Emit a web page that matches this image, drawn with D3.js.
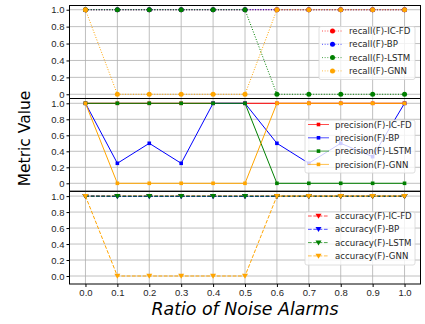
<!DOCTYPE html>
<html>
<head>
<meta charset="utf-8">
<script src="https://cdn.jsdelivr.net/npm/d3@7"></script>
<style>
  body { margin: 0; background: #fff; }
  svg { display: block; font-family: "DejaVu Sans", sans-serif; }
  .axis text { fill: #262626; font-size: 9.5px; }
  .grid line { stroke: #b0b0b0; stroke-width: 0.8; }
</style>
</head>
<body>
<div class="canvas"></div>
<script>
const ratios = [0.0, 0.1, 0.2, 0.3, 0.4, 0.5, 0.6, 0.7, 0.8, 0.9, 1.0];
const methods = ["IC-FD", "BP", "LSTM", "GNN"];

const recallICFD = [1, 1, 1, 1, 1, 1, 1, 1, 1, 1, 1];
const recallBP = [1, 1, 1, 1, 1, 1, 1, 1, 1, 1, 1];
const recallLSTM = [1, 1, 1, 1, 1, 1, 0, 0, 0, 0, 0];
const recallGNN = [1, 0, 0, 0, 0, 0, 1, 1, 1, 1, 1];

const precisionICFD = [1, 1, 1, 1, 1, 1, 1, 1, 1, 1, 1];
const precisionBP = [1, 0.25, 0.5, 0.25, 1, 1, 0.5, 0.25, 0.5, 0.333, 1];
const precisionLSTM = [1, 1, 1, 1, 1, 1, 0, 0, 0, 0, 0];
const precisionGNN = [1, 0, 0, 0, 0, 0, 1, 1, 1, 1, 1];

const accuracyICFD = [1, 1, 1, 1, 1, 1, 1, 1, 1, 1, 1];
const accuracyBP = [1, 0.995, 0.995, 0.995, 0.995, 0.995, 0.995, 0.995, 0.995, 0.995, 0.995];
const accuracyLSTM = [1, 1, 1, 1, 1, 1, 1, 1, 1, 1, 1];
const accuracyGNN = [1, 0, 0, 0, 0, 0, 1, 1, 1, 1, 1];

const yTicks = [0, 0.2, 0.4, 0.6, 0.8, 1.0];
const colors = ["#ff0000", "#0000ff", "#008000", "#ffa500"];

const panels = [
  { metric: "recall", series: [recallICFD, recallBP, recallLSTM, recallGNN],
    dash: "1,1.65", marker: "circle", domain: [-0.05, 1.05], zero: "0",
    top: 5.5, bottom: 98.5, legend: { x: 319, y: 26.5, w: 96, rowY: 31 , lineX: 322 } },
  { metric: "precision", series: [precisionICFD, precisionBP, precisionLSTM, precisionGNN],
    dash: null, marker: "square", domain: [-0.1, 1.06], zero: "0",
    top: 98.5, bottom: 191.3, legend: { x: 305, y: 120, w: 110, rowY: 124.5, lineX: 308 } },
  { metric: "accuracy", series: [accuracyICFD, accuracyBP, accuracyLSTM, accuracyGNN],
    dash: "3.7,1.6", marker: "triangle", domain: [-0.1, 1.06], zero: "0.0",
    top: 191.3, bottom: 284, legend: { x: 305, y: 212, w: 110, rowY: 216, lineX: 308 } }
];

const W = 425, H = 324;
const left = 69.5, right = 420.5;

const svg = d3.select(".canvas").append("svg")
  .attr("width", W).attr("height", H);

const x = d3.scaleLinear().domain([-0.05, 1.05]).range([left, right]);

function drawMarker(g, type, cx, cy, color) {
  if (type === "circle") {
    g.append("circle").attr("cx", cx).attr("cy", cy).attr("r", 2.5).attr("fill", color);
  } else if (type === "square") {
    g.append("rect").attr("x", cx - 1.8).attr("y", cy - 1.8)
      .attr("width", 3.6).attr("height", 3.6).attr("fill", color);
  } else {
    g.append("path").attr("d", `M${cx - 3},${cy - 2.2}L${cx + 3},${cy - 2.2}L${cx},${cy + 2.8}Z`)
      .attr("fill", color);
  }
}

panels.forEach((p, pi) => {
  const y = d3.scaleLinear().domain(p.domain).range([p.bottom, p.top]);
  const g = svg.append("g");

  // grid
  const grid = g.append("g").attr("class", "grid");
  grid.selectAll(".gx").data(ratios).enter().append("line")
    .attr("x1", (d) => x(d)).attr("x2", (d) => x(d))
    .attr("y1", p.top).attr("y2", p.bottom);
  grid.selectAll(".gy").data(yTicks).enter().append("line")
    .attr("x1", left).attr("x2", right)
    .attr("y1", (d) => y(d)).attr("y2", (d) => y(d));

  // y axis
  const yAxis = d3.axisLeft(y).tickValues(yTicks).tickSize(3)
    .tickPadding(2)
    .tickFormat((d) => (d === 0 ? p.zero : d3.format(".1f")(d)));
  g.append("g").attr("class", "axis")
    .attr("transform", `translate(${left},0)`)
    .call(yAxis)
    .call((a) => a.select(".domain").remove());

  // lines
  const line = d3.line().x((d, i) => x(ratios[i])).y((d) => y(d));
  p.series.forEach((vals, si) => {
    const sg = g.append("g");
    sg.append("path").datum(vals)
      .attr("d", line)
      .attr("fill", "none")
      .attr("stroke", colors[si])
      .attr("stroke-width", 1)
      .attr("stroke-dasharray", p.dash);
    vals.forEach((v, i) => drawMarker(sg, p.marker, x(ratios[i]), y(v), colors[si]));
  });

  // frame
  g.append("rect")
    .attr("x", left).attr("y", p.top)
    .attr("width", right - left).attr("height", p.bottom - p.top)
    .attr("fill", "none").attr("stroke", "#000").attr("stroke-width", 1);

  // x axis on bottom panel
  if (pi === panels.length - 1) {
    const xAxis = d3.axisBottom(x).tickValues(ratios).tickSize(3).tickPadding(2.5)
      .tickFormat(d3.format(".1f"));
    g.append("g").attr("class", "axis")
      .attr("transform", `translate(0,${p.bottom})`)
      .call(xAxis)
      .call((a) => a.select(".domain").remove());
  }

  // legend
  const L = p.legend;
  const lg = svg.append("g");
  const rowH = 13.3;
  lg.append("rect")
    .attr("x", L.x).attr("y", L.y).attr("width", L.w).attr("height", 53)
    .attr("rx", 2).attr("fill", "rgba(255,255,255,0.8)")
    .attr("stroke", "#d6d6d6").attr("stroke-width", 0.8);
  methods.forEach((m, i) => {
    const cy = L.rowY + i * rowH;
    lg.append("line")
      .attr("x1", L.lineX).attr("x2", L.lineX + 21)
      .attr("y1", cy).attr("y2", cy)
      .attr("stroke", colors[i]).attr("stroke-width", 1)
      .attr("stroke-opacity", 0.7)
      .attr("stroke-dasharray", p.dash);
    drawMarker(lg, p.marker, L.lineX + 10.5, cy, colors[i]);
    lg.append("text")
      .attr("x", L.lineX + 27).attr("y", cy + 3.1)
      .attr("font-size", 8.6).attr("fill", "#262626")
      .text(`${p.metric}(F)-${m}`);
  });
});

svg.append("text")
  .attr("transform", "translate(30,138.5) rotate(-90)")
  .attr("text-anchor", "middle")
  .attr("font-size", 15.5)
  .text("Metric Value");

svg.append("text")
  .attr("x", 245).attr("y", 314.5)
  .attr("text-anchor", "middle")
  .attr("font-size", 17.4)
  .attr("font-style", "italic")
  .text("Ratio of Noise Alarms");
</script>
</body>
</html>
